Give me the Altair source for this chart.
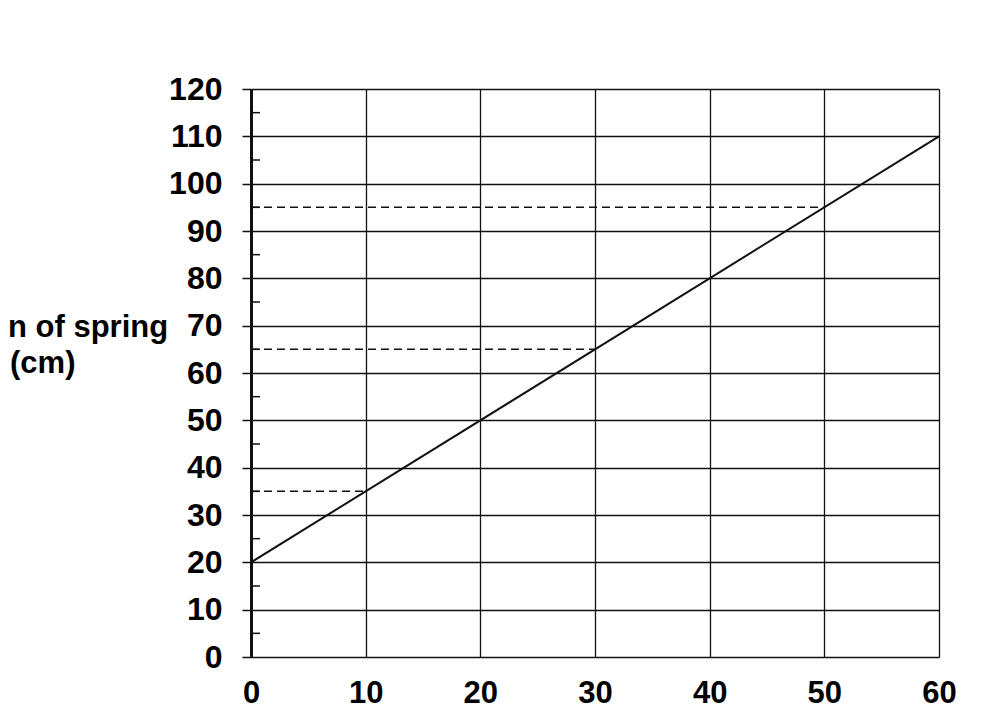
import altair as alt
import pandas as pd

# values
x_ticks = [0, 10, 20, 30, 40, 50, 60]
y_ticks = [0, 10, 20, 30, 40, 50, 60, 70, 80, 90, 100, 110, 120]
y_minor = [5, 15, 25, 35, 45, 55, 65, 75, 85, 95, 105, 115]

line_x = [0, 60]
line_y = [20, 110]

dash_y = [95, 65, 35]
dash_x_end = [50, 30, 10]

title_lines = ["n of spring", "(cm)"]

FONT = "Liberation Sans"
INK = "#111111"

line_df = pd.DataFrame({"x": line_x, "y": line_y})
dash_df = pd.DataFrame({"x0": [0] * len(dash_y), "x1": dash_x_end, "y": dash_y})
minor_df = pd.DataFrame({"v": y_minor})

xs = alt.Scale(domain=[0, 60], nice=False, zero=False)
ys = alt.Scale(domain=[0, 120], nice=False, zero=False)

base_x = alt.X(
    "x:Q",
    scale=xs,
    axis=alt.Axis(
        values=x_ticks,
        title=None,
        grid=True,
        gridColor=INK,
        gridWidth=1.3,
        ticks=False,
        domain=False,
        labelFlush=False,
        labelPadding=21,
        labelFont=FONT,
        labelFontSize=31,
        labelFontWeight="bold",
        labelColor="black",
    ),
)
base_y = alt.Y(
    "y:Q",
    scale=ys,
    axis=alt.Axis(
        values=y_ticks,
        title=None,
        grid=True,
        gridColor=INK,
        gridWidth=1.3,
        tickSize=9,
        tickColor=INK,
        tickWidth=1.5,
        domainColor=INK,
        domainWidth=3,
        labelFlush=False,
        labelPadding=20,
        labelFont=FONT,
        labelFontSize=32,
        labelFontWeight="bold",
        labelColor="black",
    ),
)

line = alt.Chart(line_df).mark_line(color=INK, strokeWidth=2).encode(x=base_x, y=base_y)

dashes = (
    alt.Chart(dash_df)
    .mark_rule(color=INK, strokeWidth=1.5, strokeDash=[8, 5])
    .encode(x=alt.X("x0:Q", scale=xs), x2="x1:Q", y=alt.Y("y:Q", scale=ys))
)

minor = (
    alt.Chart(minor_df)
    .mark_rule(color=INK, strokeWidth=1.5)
    .encode(x=alt.value(1), x2=alt.value(9), y=alt.Y("v:Q", scale=ys))
)

title1 = (
    alt.Chart(pd.DataFrame({"t": [title_lines[0]]}))
    .mark_text(align="left", baseline="alphabetic", font=FONT, fontSize=31,
               fontWeight="bold", color="black")
    .encode(text="t:N", x=alt.value(-243), y=alt.value(248))
)
title2 = (
    alt.Chart(pd.DataFrame({"t": [title_lines[1]]}))
    .mark_text(align="left", baseline="alphabetic", font=FONT, fontSize=31,
               fontWeight="bold", color="black")
    .encode(text="t:N", x=alt.value(-241), y=alt.value(284))
)

chart = (
    alt.layer(line, dashes, minor, title1, title2)
    .properties(
        width=688,
        height=568,
        autosize=alt.AutoSizeParams(type="none"),
        padding={"left": 243, "top": 81, "right": 40, "bottom": 52},
        background="white",
    )
    .configure_view(stroke=None)
)

chart.save("out.html", embed_options={"renderer": "svg", "actions": False})
